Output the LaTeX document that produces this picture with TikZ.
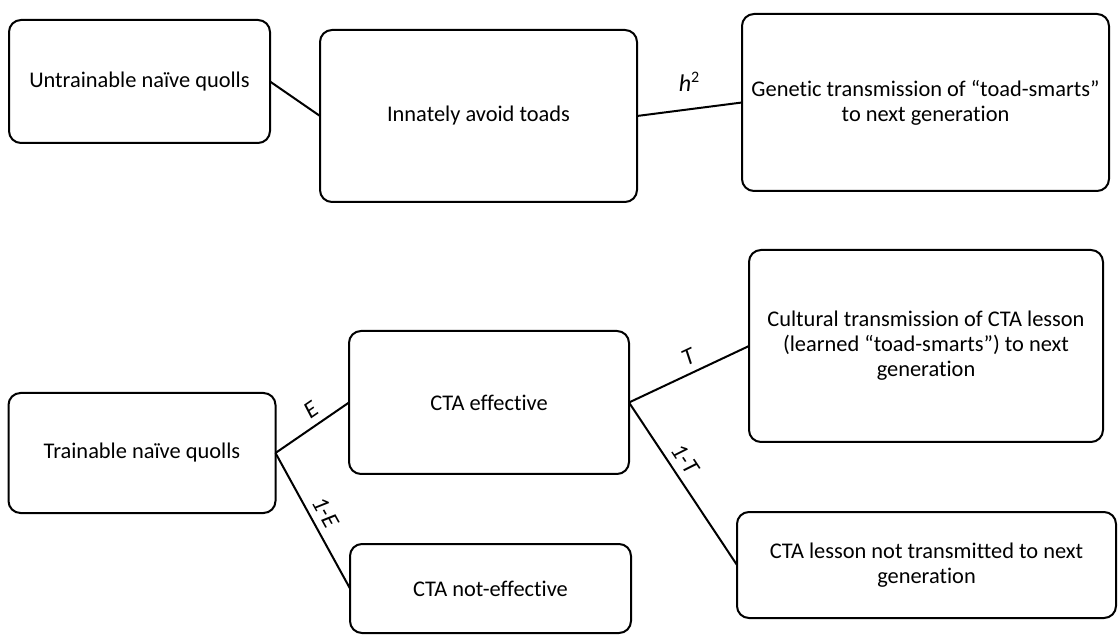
\documentclass[tikz,border=0pt]{standalone}
\usepackage{fontspec}
\setmainfont{Carlito}[Ligatures=NoCommon]
\usetikzlibrary{positioning}

\begin{document}
\begin{tikzpicture}[x=0.5pt,y=-0.5pt]
			\def\rad{6pt}

			\tikzset{line/.style={draw,line width=1pt}}
			\tikzset{box/.style={line,rounded corners=\rad,inner sep=0pt,outer sep=0pt,align=center,font=\fontsize{11.2}{12.5}\selectfont}}
			\tikzset{lbl/.style={above,sloped,font=\fontsize{12}{13}\selectfont\itshape}}

			\useasboundingbox (0,0) rectangle (1118,635);

			% upper branch: untrainable quolls
			\node[box,minimum width=130.5pt,minimum height=61.5pt] (b1) at (139.5, 81.5) {Untrainable naïve quolls};
			\node[box,minimum width=158.5pt,minimum height=86pt] (b2) at (478.5, 116) {Innately avoid toads};
			\node[box,minimum width=183.5pt,minimum height=88.5pt] (b3) at (925.5, 102.5) {Genetic transmission of “toad-smarts”\\to next generation};

			% lower branch: trainable quolls
			\node[box,minimum width=133.5pt,minimum height=60pt] (b4) at (142, 453) {Trainable naïve quolls};
			\node[box,minimum width=140pt,minimum height=71.5pt] (b5) at (489, 402.5) {CTA effective};
			\node[box,minimum width=140.5pt,minimum height=44.5pt] (b7) at (490.5, 588.5) {CTA not-effective};
			\node[box,minimum width=177pt,minimum height=96pt] (b6) at (926, 346) {Cultural transmission of CTA lesson\\(learned “toad-smarts”) to next\\generation};
			\node[box,minimum width=189.5pt,minimum height=53pt] (b8) at (926.5, 565) {CTA lesson not transmitted to next\\generation};

			\path[line] (b1.east) to (b2.west);
			\path[line] (b2.east) to node[above=5pt,font=\fontsize{12}{13}\selectfont] {\textit{h}\textsuperscript{2}} (b3.west);

			\path[line] (b4.east) to node[lbl,pos=0.6] {E} (b5.west);
			\path[line] (b4.east) to node[lbl,pos=0.49] {1-E} (b7.west);
			\path[line] (b5.east) to node[lbl,pos=0.55] {T} (b6.west);
			\path[line] (b5.east) to node[lbl,pos=0.4] {1-T} (b8.west);
		\end{tikzpicture}
\end{document}
